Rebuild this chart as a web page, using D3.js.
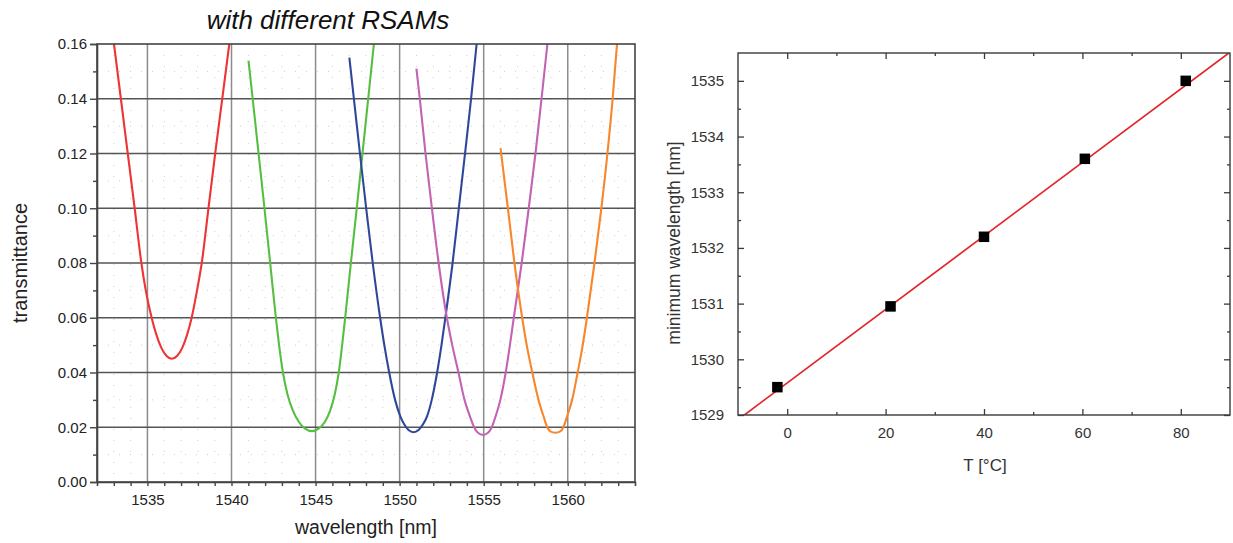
<!DOCTYPE html>
<html>
<head>
<meta charset="utf-8">
<script src="https://cdn.jsdelivr.net/npm/d3@7"></script>
<style>
  html, body { margin: 0; padding: 0; background: #fff; }
  svg { display: block; font-family: "Liberation Sans", Arial, sans-serif; }
</style>
</head>
<body>
<svg id="fig" width="1233" height="543"></svg>
<script>
// ---------- transmission spectra (wavelength [nm], transmittance) ----------
const redWl     = [1533.01, 1533.42, 1533.83, 1534.24, 1534.64, 1534.9, 1535.25, 1535.52, 1535.83, 1536.14, 1536.45,
                   1536.76, 1537.07, 1537.37, 1537.63, 1537.95, 1538.23, 1538.63, 1539.03, 1539.45, 1539.87];
const redT      = [0.160, 0.140, 0.120, 0.100, 0.080, 0.070, 0.060, 0.054, 0.049, 0.046, 0.045,
                   0.046, 0.049, 0.054, 0.060, 0.070, 0.080, 0.100, 0.120, 0.140, 0.160];

const greenWl   = [1541.01, 1541.26, 1541.61, 1541.96, 1542.30, 1542.64, 1542.83, 1543.06, 1543.33, 1543.66, 1544.0, 1544.38, 1544.78,
                   1545.18, 1545.56, 1545.86, 1546.14, 1546.38, 1546.58, 1546.76, 1547.10, 1547.45, 1547.79, 1548.13, 1548.47];
const greenT    = [0.1539, 0.140, 0.120, 0.100, 0.080, 0.060, 0.050, 0.040, 0.032, 0.026, 0.022, 0.0195, 0.0186,
                   0.0195, 0.022, 0.026, 0.032, 0.040, 0.050, 0.060, 0.080, 0.100, 0.120, 0.140, 0.160];

const blueWl    = [1547.01, 1547.28, 1547.64, 1548.01, 1548.40, 1548.84, 1549.09, 1549.38, 1549.73, 1550.04, 1550.28, 1550.53, 1550.83,
                   1551.13, 1551.38, 1551.63, 1551.91, 1552.23, 1552.49, 1552.72, 1553.15, 1553.52, 1553.89, 1554.25, 1554.58];
const blueT     = [0.155, 0.140, 0.120, 0.100, 0.080, 0.060, 0.050, 0.040, 0.030, 0.024, 0.021, 0.019, 0.0182,
                   0.019, 0.021, 0.024, 0.030, 0.040, 0.050, 0.060, 0.080, 0.100, 0.120, 0.140, 0.160];

const magentaWl = [1551.0, 1551.2, 1551.54, 1551.92, 1552.32, 1552.81, 1553.13, 1553.5, 1553.86, 1554.18, 1554.43, 1554.66, 1554.96,
                   1555.26, 1555.48, 1555.71, 1555.99, 1556.31, 1556.56, 1556.79, 1557.26, 1557.68, 1558.08, 1558.44, 1558.79];
const magentaT  = [0.151, 0.140, 0.120, 0.100, 0.080, 0.060, 0.050, 0.040, 0.030, 0.024, 0.020, 0.018, 0.0172,
                   0.018, 0.020, 0.024, 0.030, 0.040, 0.050, 0.060, 0.080, 0.100, 0.120, 0.140, 0.160];

const orangeWl  = [1556.0, 1556.44, 1556.83, 1557.29, 1557.56, 1557.89, 1558.26, 1558.56, 1558.78, 1558.96, 1559.26,
                   1559.56, 1559.74, 1559.96, 1560.26, 1560.59, 1560.89, 1561.14, 1561.59, 1562.0, 1562.36, 1562.67, 1562.93];
const orangeT   = [0.122, 0.100, 0.080, 0.060, 0.050, 0.040, 0.030, 0.024, 0.020, 0.0185, 0.018,
                   0.0185, 0.020, 0.024, 0.030, 0.040, 0.050, 0.060, 0.080, 0.100, 0.120, 0.140, 0.160];

const spectra = [
  { wl: redWl,     t: redT,     color: "#ee3434" },
  { wl: greenWl,   t: greenT,   color: "#56bf42" },
  { wl: blueWl,    t: blueT,    color: "#2f479a" },
  { wl: magentaWl, t: magentaT, color: "#c263b4" },
  { wl: orangeWl,  t: orangeT,  color: "#f7862c" }
];

const wlTicks = [1535, 1540, 1545, 1550, 1555, 1560];
const tTicks  = [0.00, 0.02, 0.04, 0.06, 0.08, 0.10, 0.12, 0.14, 0.16];

// ---------- minimum wavelength vs temperature ----------
const tempC   = [-2, 21, 40, 60.5, 81];
const minWl   = [1529.5, 1530.95, 1532.2, 1533.6, 1535.0];
const fitSlope = 0.066;      // nm / °C
const fitIntercept = 1529.575;
const tempTicks = [0, 20, 40, 60, 80];
const minWlTicks = [1529, 1530, 1531, 1532, 1533, 1534, 1535];

const svg = d3.select("#fig");

// =================== left panel ===================
const L = { x0: 97, x1: 635, y0: 44, y1: 482 };
const xL = d3.scaleLinear().domain([1532, 1564]).range([L.x0, L.x1]);
const yL = d3.scaleLinear().domain([0, 0.16]).range([L.y1, L.y0]);

const gL = svg.append("g");

// minor dotted grid
const minorWl = d3.range(1533, 1564, 1).filter(v => v % 5 !== 0);
const minorT = d3.range(0.01, 0.16, 0.02);
gL.append("g").selectAll("line").data(minorWl).join("line")
  .attr("x1", d => xL(d)).attr("x2", d => xL(d))
  .attr("y1", L.y0).attr("y2", L.y1)
  .attr("stroke", "#cfcfcf").attr("stroke-width", 1).attr("stroke-dasharray", "1,10");
gL.append("g").selectAll("line").data(minorT).join("line")
  .attr("x1", L.x0).attr("x2", L.x1)
  .attr("y1", d => yL(d)).attr("y2", d => yL(d))
  .attr("stroke", "#cfcfcf").attr("stroke-width", 1).attr("stroke-dasharray", "1,10");

// major grid
gL.append("g").selectAll("line").data(wlTicks).join("line")
  .attr("x1", d => xL(d)).attr("x2", d => xL(d))
  .attr("y1", L.y0).attr("y2", L.y1)
  .attr("stroke", "#8c8c8c").attr("stroke-width", 1.5);
gL.append("g").selectAll("line").data(tTicks.filter(d => d > 0 && d < 0.16)).join("line")
  .attr("x1", L.x0).attr("x2", L.x1)
  .attr("y1", d => yL(d)).attr("y2", d => yL(d))
  .attr("stroke", "#555").attr("stroke-width", 1.6);

// spectra
const lineL = d3.line()
  .x(d => xL(d[0])).y(d => yL(d[1]))
  .curve(d3.curveMonotoneX);
gL.append("g").selectAll("path").data(spectra).join("path")
  .attr("d", s => lineL(s.wl.map((w, i) => [w, s.t[i]])))
  .attr("fill", "none")
  .attr("stroke", s => s.color)
  .attr("stroke-width", 2.1)
  .attr("stroke-linejoin", "round");

// frame
gL.append("rect")
  .attr("x", L.x0).attr("y", L.y0)
  .attr("width", L.x1 - L.x0).attr("height", L.y1 - L.y0)
  .attr("fill", "none").attr("stroke", "#444").attr("stroke-width", 1.6);

// axes
const axBottomL = d3.axisBottom(xL).tickValues(wlTicks).tickFormat(d3.format("d"))
  .tickSize(4).tickPadding(8);
const gxL = gL.append("g").attr("transform", `translate(0,${L.y1})`).call(axBottomL);
gL.append("g").attr("transform", `translate(0,${L.y1})`)
  .call(d3.axisBottom(xL).tickValues(minorWl).tickSize(4).tickFormat(""))
  .call(g => g.select(".domain").remove());

const axLeftL = d3.axisLeft(yL).tickValues(tTicks).tickFormat(d3.format(".2f"))
  .tickSize(7).tickPadding(3);
const gyL = gL.append("g").attr("transform", `translate(${L.x0},0)`).call(axLeftL);
gL.append("g").attr("transform", `translate(${L.x0},0)`)
  .call(d3.axisLeft(yL).tickValues(minorT).tickSize(4).tickFormat(""))
  .call(g => g.select(".domain").remove());

[gxL, gyL].forEach(g => {
  g.select(".domain").attr("stroke", "#444").attr("stroke-width", 1.6);
  g.selectAll(".tick text").attr("fill", "#222").style("font-size", "15px")
    .style("font-family", "'Liberation Sans', Arial, sans-serif");
});
gL.selectAll(".tick line").attr("stroke", "#444").attr("stroke-width", 1.4);

// labels
svg.append("text")
  .attr("x", 328).attr("y", 29)
  .attr("text-anchor", "middle")
  .style("font-size", "26px").style("font-style", "italic").attr("fill", "#111")
  .text("with different RSAMs");
svg.append("text")
  .attr("transform", `translate(27,${(L.y0 + L.y1) / 2}) rotate(-90)`)
  .attr("text-anchor", "middle")
  .style("font-size", "20px").attr("fill", "#222")
  .text("transmittance");
svg.append("text")
  .attr("x", 366).attr("y", 534)
  .attr("text-anchor", "middle")
  .style("font-size", "19.5px").attr("fill", "#222")
  .text("wavelength [nm]");

// =================== right panel ===================
const R = { x0: 738, x1: 1230, y0: 53, y1: 415 };
const xR = d3.scaleLinear().domain([-10, 90]).range([R.x0, R.x1]);
const yR = d3.scaleLinear().domain([1529, 1535.5]).range([R.y1, R.y0]);

const gR = svg.append("g");
const clip = gR.append("clipPath").attr("id", "clipR");
clip.append("rect").attr("x", R.x0).attr("y", R.y0)
  .attr("width", R.x1 - R.x0).attr("height", R.y1 - R.y0);

// linear fit
const fitX = xR.domain();
gR.append("path")
  .attr("clip-path", "url(#clipR)")
  .attr("d", d3.line().x(d => xR(d)).y(d => yR(fitIntercept + fitSlope * d))(fitX))
  .attr("fill", "none").attr("stroke", "#e1262a").attr("stroke-width", 1.7);

// measured minima
const sq = 10.5;
gR.append("g").selectAll("rect").data(tempC.map((t, i) => [t, minWl[i]])).join("rect")
  .attr("x", d => xR(d[0]) - sq / 2).attr("y", d => yR(d[1]) - sq / 2)
  .attr("width", sq).attr("height", sq).attr("fill", "#000");

// frame
gR.append("rect")
  .attr("x", R.x0).attr("y", R.y0)
  .attr("width", R.x1 - R.x0).attr("height", R.y1 - R.y0)
  .attr("fill", "none").attr("stroke", "#3a3a3a").attr("stroke-width", 1.4);

const minorTemp = [10, 30, 50, 70];
const minorMinWl = d3.range(1529.5, 1535.5, 1);
function styleR(g) {
  g.select(".domain").remove();
  g.selectAll(".tick line").attr("stroke", "#3a3a3a").attr("stroke-width", 1.3);
  g.selectAll(".tick text").attr("fill", "#333").style("font-size", "15px")
    .style("font-family", "'Liberation Sans', Arial, sans-serif");
}
// bottom (inward ticks)
gR.append("g").attr("transform", `translate(0,${R.y1})`)
  .call(d3.axisBottom(xR).tickValues(tempTicks).tickSizeInner(-6).tickSizeOuter(0).tickPadding(12).tickFormat(d3.format("d")))
  .call(styleR);
gR.append("g").attr("transform", `translate(0,${R.y1})`)
  .call(d3.axisBottom(xR).tickValues(minorTemp).tickSizeInner(-3).tickSizeOuter(0).tickFormat(""))
  .call(styleR);
// top
gR.append("g").attr("transform", `translate(0,${R.y0})`)
  .call(d3.axisTop(xR).tickValues(tempTicks).tickSizeInner(-6).tickSizeOuter(0).tickFormat(""))
  .call(styleR);
gR.append("g").attr("transform", `translate(0,${R.y0})`)
  .call(d3.axisTop(xR).tickValues(minorTemp).tickSizeInner(-3).tickSizeOuter(0).tickFormat(""))
  .call(styleR);
// left
gR.append("g").attr("transform", `translate(${R.x0},0)`)
  .call(d3.axisLeft(yR).tickValues(minWlTicks).tickSizeInner(-6).tickSizeOuter(0).tickPadding(14).tickFormat(d3.format("d")))
  .call(styleR);
gR.append("g").attr("transform", `translate(${R.x0},0)`)
  .call(d3.axisLeft(yR).tickValues(minorMinWl).tickSizeInner(-3).tickSizeOuter(0).tickFormat(""))
  .call(styleR);
// right
gR.append("g").attr("transform", `translate(${R.x1},0)`)
  .call(d3.axisRight(yR).tickValues(minWlTicks).tickSizeInner(-6).tickSizeOuter(0).tickFormat(""))
  .call(styleR);
gR.append("g").attr("transform", `translate(${R.x1},0)`)
  .call(d3.axisRight(yR).tickValues(minorMinWl).tickSizeInner(-3).tickSizeOuter(0).tickFormat(""))
  .call(styleR);

svg.append("text")
  .attr("transform", `translate(680,243) rotate(-90)`)
  .attr("text-anchor", "middle")
  .style("font-size", "17.5px").attr("fill", "#333")
  .text("minimum wavelength [nm]");
svg.append("text")
  .attr("x", 985).attr("y", 471)
  .attr("text-anchor", "middle")
  .style("font-size", "17px").attr("fill", "#333")
  .text("T [°C]");
</script>
</body>
</html>
